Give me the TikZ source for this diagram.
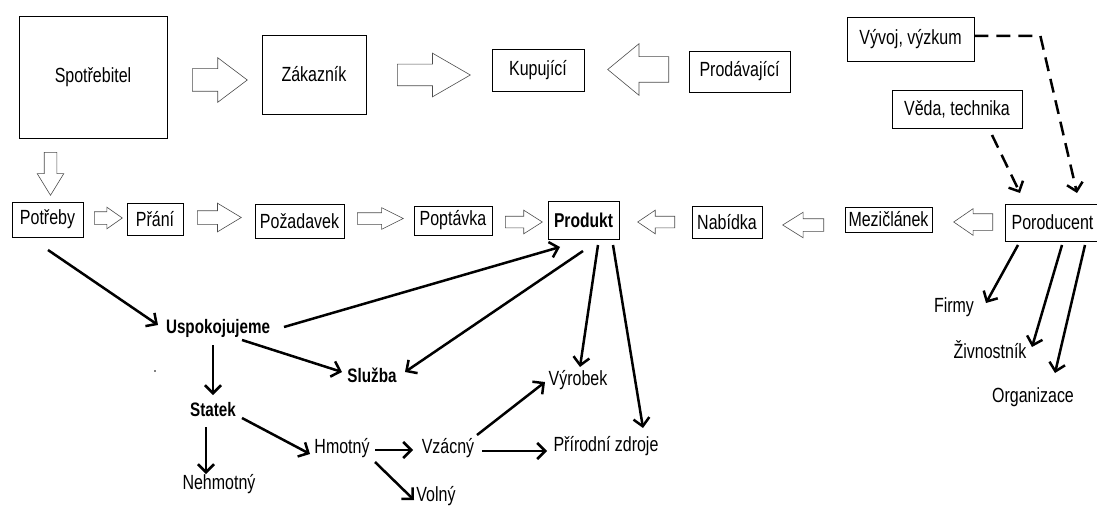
\documentclass[tikz,border=0pt]{standalone}
\usepackage{fontspec}
\setmainfont{Liberation Sans}[FakeStretch=0.78]
\usetikzlibrary{arrows.meta,shapes.arrows,calc}

\tikzset{
  box/.style={draw,line width=0.8pt,inner sep=0pt},
  txt/.style={inner sep=1pt},
  bold/.style={txt,font=\fontsize{19.5}{22}\selectfont\bfseries},
  blk/.style={single arrow,draw=black!70,line width=0.6pt,inner xsep=0pt,
    single arrow head indent=0pt,anchor=tail},
  conn/.style={line width=2.5pt,-{Straight Barb[length=8pt,width=16pt]}},
  dsh/.style={conn,dash pattern=on 14pt off 8pt},
}

\begin{document}
\begin{tikzpicture}[x=1pt,y=-1pt,font=\fontsize{20.5}{24}\selectfont]
\useasboundingbox (0,0) rectangle (1097,508);

% top row
\node[box,minimum width=148pt,minimum height=122pt] (spot) at (93,77) {\raisebox{4pt}{Spotřebitel}\hspace{10pt}};
\node[box,minimum width=104pt,minimum height=79pt] (zak) at (314,74.5) {Zákazník};
\node[box,minimum width=92pt,minimum height=42pt] (kup) at (538,70) {Kupující};
\node[box,minimum width=101pt,minimum height=41pt] (prodav) at (739.5,71.5) {Prodávající};
\node[box,minimum width=127pt,minimum height=44pt] (vyvoj) at (910.5,39) {Vývoj, výzkum};
\node[box,minimum width=130pt,minimum height=38pt] (veda) at (957,109) {Věda, technika};

% second row
\node[box,minimum width=71pt,minimum height=35pt] (potreby) at (47.5,219.5) {Potřeby};
\node[box,minimum width=56pt,minimum height=32pt] (prani) at (155,219) {Přání};
\node[box,minimum width=89pt,minimum height=34pt] (pozad) at (299.5,221) {Požadavek};
\node[box,minimum width=78pt,minimum height=29pt] (poptavka) at (453,220.5) {Poptávka};
\node[box,minimum width=71pt,minimum height=38pt,font=\fontsize{20}{24}\selectfont\bfseries] (produkt) at (583.5,220) {Produkt};
\node[box,minimum width=70pt,minimum height=32pt] (nabidka) at (727,222) {Nabídka};
\node[box,minimum width=87pt,minimum height=25pt] (mezi) at (888.5,219.5) {Mezičlánek};
\node[box,minimum width=95pt,minimum height=37pt] (poro) at (1052.5,222.5) {Poroducent};

% block arrows
\node[blk,inner ysep=11pt,single arrow head extend=11pt,single arrow tip angle=74,minimum height=55pt] (a1) at (192,80) {};
\node[blk,inner ysep=10.5pt,single arrow head extend=11pt,single arrow tip angle=60,minimum height=73pt] (a2) at (397,75) {};
\node[blk,inner ysep=12.5pt,single arrow head extend=13pt,single arrow tip angle=79,minimum height=61pt,shape border rotate=180] (a3) at (669,69.5) {};
\node[blk,inner xsep=6pt,inner ysep=0pt,single arrow head extend=7pt,single arrow tip angle=63,minimum height=43pt,shape border rotate=270] (a4) at (50.5,152) {};
\node[blk,inner ysep=6pt,single arrow head extend=4.5pt,single arrow tip angle=70,minimum height=28pt] (a5) at (94,218) {};
\node[blk,inner ysep=6.5pt,single arrow head extend=7.5pt,single arrow tip angle=62,minimum height=44pt] (a6) at (197,217.5) {};
\node[blk,inner ysep=5.5pt,single arrow head extend=5pt,single arrow tip angle=53,minimum height=46pt] (a7) at (357,218.5) {};
\node[blk,inner ysep=5.5pt,single arrow head extend=6pt,single arrow tip angle=65,minimum height=37pt] (a8) at (505,222) {};
\node[blk,inner ysep=5.5pt,single arrow head extend=6pt,single arrow tip angle=68,minimum height=37pt,shape border rotate=180] (a9) at (675,222) {};
\node[blk,inner ysep=6pt,single arrow head extend=6.5pt,single arrow tip angle=64,minimum height=41pt,shape border rotate=180] (a10) at (824,225) {};
\node[blk,inner ysep=8pt,single arrow head extend=5pt,single arrow tip angle=69,minimum height=39pt,shape border rotate=180] (a11) at (993,222) {};

% lower labels
\node[bold] (usp) at (218,328) {Uspokojujeme};
\node[bold] (sluzba) at (372,375) {Služba};
\node[bold] (statek) at (213,410) {Statek};
\node[txt] (nehm) at (219,484) {Nehmotný};
\node[txt] (hmot) at (342,448) {Hmotný};
\node[txt] (vzac) at (448,448) {Vzácný};
\node[txt] (volny) at (436,496) {Volný};
\node[txt] (vyrobek) at (578,380) {Výrobek};
\node[txt] (prir) at (606,446) {Přírodní zdroje};
\node[txt] (firmy) at (954,307) {Firmy};
\node[txt] (zivn) at (990,350) {Živnostník};
\node[txt] (org) at (1033,397) {Organizace};
\fill (155,371) circle (0.8pt);

% connectors
\draw[conn] ($(potreby)+(0.5,30.5)$) -- ($(usp)+(-60,-3)$);
\draw[conn] ($(usp)+(66,-1)$) -- ($(produkt)+(-23.5,27)$);
\draw[conn] ($(usp)+(24,12)$) -- ($(sluzba)+(-30,-3)$);
\draw[conn] ($(produkt)+(-0.5,31)$) -- ($(sluzba)+(33,-3)$);
\draw[conn] ($(usp)+(-5,17)$) -- ($(statek)+(0,-15)$);
\draw[conn] ($(statek)+(-7,17)$) -- ($(nehm)+(-13,-10)$);
\draw[conn] ($(statek)+(29,8)$) -- ($(hmot)+(-32,6)$);
\draw[conn] ($(hmot)+(33,2)$) -- ($(vzac)+(-35,2)$);
\draw[conn] ($(hmot)+(33,14)$) -- ($(volny)+(-22,4)$);
\draw[conn] ($(vzac)+(29,-13)$) -- ($(vyrobek)+(-33,2)$);
\draw[conn] ($(vzac)+(34,3)$) -- ($(prir)+(-59,5)$);
\draw[conn] ($(produkt)+(14.5,25)$) -- ($(vyrobek)+(2,-13)$);
\draw[conn] ($(produkt)+(29.5,25)$) -- ($(prir)+(37,-18)$);
\draw[conn] ($(poro)+(-34.5,22.5)$) -- ($(firmy)+(32,-4)$);
\draw[conn] ($(poro)+(9.5,22.5)$) -- ($(zivn)+(42,-3)$);
\draw[conn] ($(poro)+(32.5,22.5)$) -- ($(org)+(22,-24)$);
\draw[dsh] ($(vyvoj.east)+(0,-3)$) -- ++(66,0) -- ($(poro)+(24.5,-29.5)$);
\draw[dsh] ($(veda)+(35,26)$) -- ($(poro)+(-32.5,-29.5)$);

\end{tikzpicture}
\end{document}
